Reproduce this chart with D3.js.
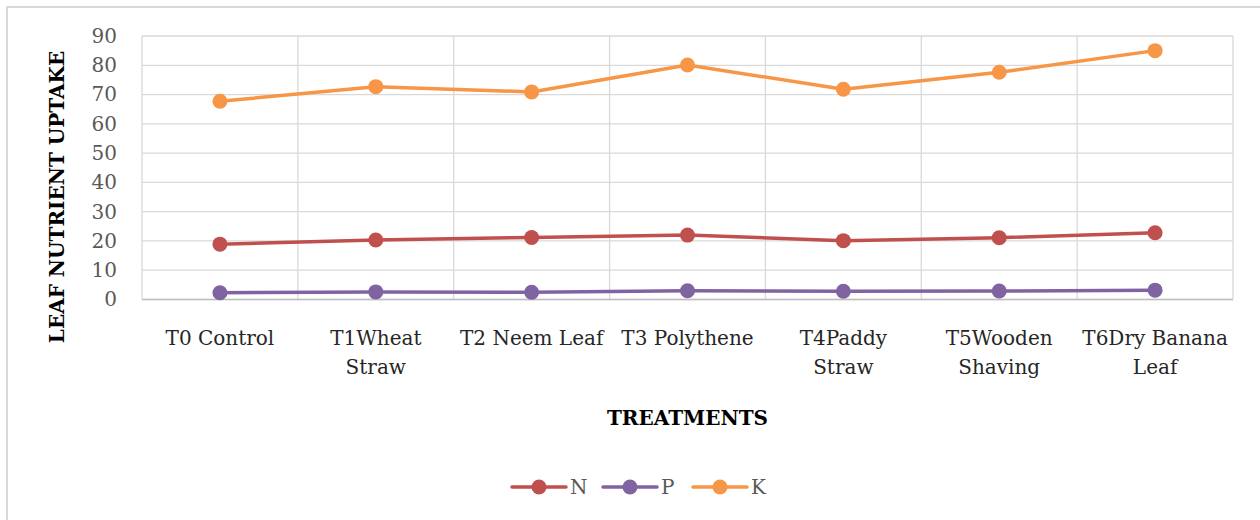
<!DOCTYPE html>
<html>
<head>
<meta charset="utf-8">
<script src="https://cdn.jsdelivr.net/npm/d3@7"></script>
<style>
  body { margin: 0; background: #fff; }
  svg text { font-family: "DejaVu Serif", "Liberation Serif", serif; }
</style>
</head>
<body>
<div id="chart"></div>
<script>
// data
const categories = ["T0 Control", "T1Wheat\nStraw", "T2 Neem Leaf", "T3 Polythene", "T4Paddy\nStraw", "T5Wooden\nShaving", "T6Dry Banana\nLeaf"];
const nValues = [18.9, 20.3, 21.2, 22.0, 20.1, 21.1, 22.8];
const pValues = [2.3, 2.6, 2.5, 3.0, 2.8, 2.9, 3.2];
const kValues = [67.7, 72.7, 70.9, 80.1, 71.8, 77.6, 85.0];
const yTicks = [0, 10, 20, 30, 40, 50, 60, 70, 80, 90];
const seriesNames = ["N", "P", "K"];
const seriesColors = ["#C0504D", "#8064A2", "#F79646"];

const W = 1260, H = 520;
const margin = {top: 36, right: 27, bottom: 220.5, left: 142};
const width = W - margin.left - margin.right;
const height = H - margin.top - margin.bottom;

const svg = d3.select("#chart").append("svg")
    .attr("width", W)
    .attr("height", H);

// outer chart frame (cut off at right/bottom in the reference)
svg.append("rect")
    .attr("x", 7).attr("y", 7)
    .attr("width", W).attr("height", H)
    .attr("fill", "none")
    .attr("stroke", "#d9d9d9")
    .attr("stroke-width", 2);

const g = svg.append("g")
    .attr("transform", "translate(" + margin.left + "," + margin.top + ")");

const xScale = d3.scaleBand().domain(categories).range([0, width]);
const yScale = d3.scaleLinear().domain([0, 90]).range([height, 0]);

// horizontal grid
g.append("g")
    .selectAll("line")
    .data(yTicks)
    .join("line")
    .attr("x1", 0).attr("x2", width)
    .attr("y1", d => yScale(d)).attr("y2", d => yScale(d))
    .attr("stroke", "#d9d9d9")
    .attr("stroke-width", 1.3);

// vertical grid on category boundaries
const bounds = categories.map(c => xScale(c)).concat([width]);
g.append("g")
    .selectAll("line")
    .data(bounds)
    .join("line")
    .attr("x1", d => d).attr("x2", d => d)
    .attr("y1", 0).attr("y2", height)
    .attr("stroke", "#d9d9d9")
    .attr("stroke-width", 1.3);

// base line
g.append("line")
    .attr("x1", 0).attr("x2", width)
    .attr("y1", height).attr("y2", height)
    .attr("stroke", "#bfbfbf")
    .attr("stroke-width", 1.5);

// y axis
const yAxisG = g.append("g")
    .call(d3.axisLeft(yScale).tickValues(yTicks).tickSize(0).tickPadding(25));
yAxisG.select(".domain").remove();
yAxisG.selectAll("text")
    .attr("fill", "#595959")
    .style("font-size", "20px")
    .style("font-family", "'DejaVu Serif', serif");

// x axis labels (with manual line breaks)
const xAxisG = g.append("g")
    .attr("transform", "translate(0," + height + ")");
xAxisG.selectAll("text")
    .data(categories)
    .join("text")
    .attr("x", d => xScale(d) + xScale.bandwidth() / 2)
    .attr("y", 45)
    .attr("text-anchor", "middle")
    .attr("fill", "#262626")
    .style("font-size", "20px")
    .each(function (d) {
        const t = d3.select(this);
        d.split("\n").forEach((line, i) => {
            t.append("tspan")
                .attr("x", xScale(d) + xScale.bandwidth() / 2)
                .attr("dy", i === 0 ? 0 : 29)
                .text(line);
        });
    });

// axis titles
g.append("text")
    .attr("x", width / 2)
    .attr("y", height + 125)
    .attr("text-anchor", "middle")
    .attr("fill", "#000")
    .style("font-size", "20px")
    .style("font-weight", "bold")
    .text("TREATMENTS");

svg.append("text")
    .attr("transform", "translate(64,197) rotate(-90)")
    .attr("text-anchor", "middle")
    .attr("fill", "#000")
    .style("font-size", "20px")
    .style("font-weight", "bold")
    .text("LEAF NUTRIENT UPTAKE");

// series
const allSeries = [nValues, pValues, kValues];
const line = d3.line()
    .x((d, i) => xScale(categories[i]) + xScale.bandwidth() / 2)
    .y(d => yScale(d));

allSeries.forEach((vals, s) => {
    g.append("path")
        .datum(vals)
        .attr("fill", "none")
        .attr("stroke", seriesColors[s])
        .attr("stroke-width", 3.5)
        .attr("stroke-linejoin", "round")
        .attr("d", line);
    g.append("g")
        .selectAll("circle")
        .data(vals)
        .join("circle")
        .attr("cx", (d, i) => xScale(categories[i]) + xScale.bandwidth() / 2)
        .attr("cy", d => yScale(d))
        .attr("r", 7.5)
        .attr("fill", seriesColors[s]);
});

// legend
const legendX = [512, 603, 693];
const legend = svg.append("g").attr("transform", "translate(0,487)");
seriesNames.forEach((name, s) => {
    const lg = legend.append("g").attr("transform", "translate(" + legendX[s] + ",0)");
    lg.append("line")
        .attr("x1", 0).attr("x2", 54)
        .attr("y1", 0).attr("y2", 0)
        .attr("stroke", seriesColors[s])
        .attr("stroke-width", 3.5)
        .attr("stroke-linecap", "round");
    lg.append("circle")
        .attr("cx", 27).attr("cy", 0).attr("r", 7.5)
        .attr("fill", seriesColors[s]);
    lg.append("text")
        .attr("x", 58).attr("y", 7)
        .attr("fill", "#595959")
        .style("font-size", "20px")
        .text(name);
});
</script>
</body>
</html>
